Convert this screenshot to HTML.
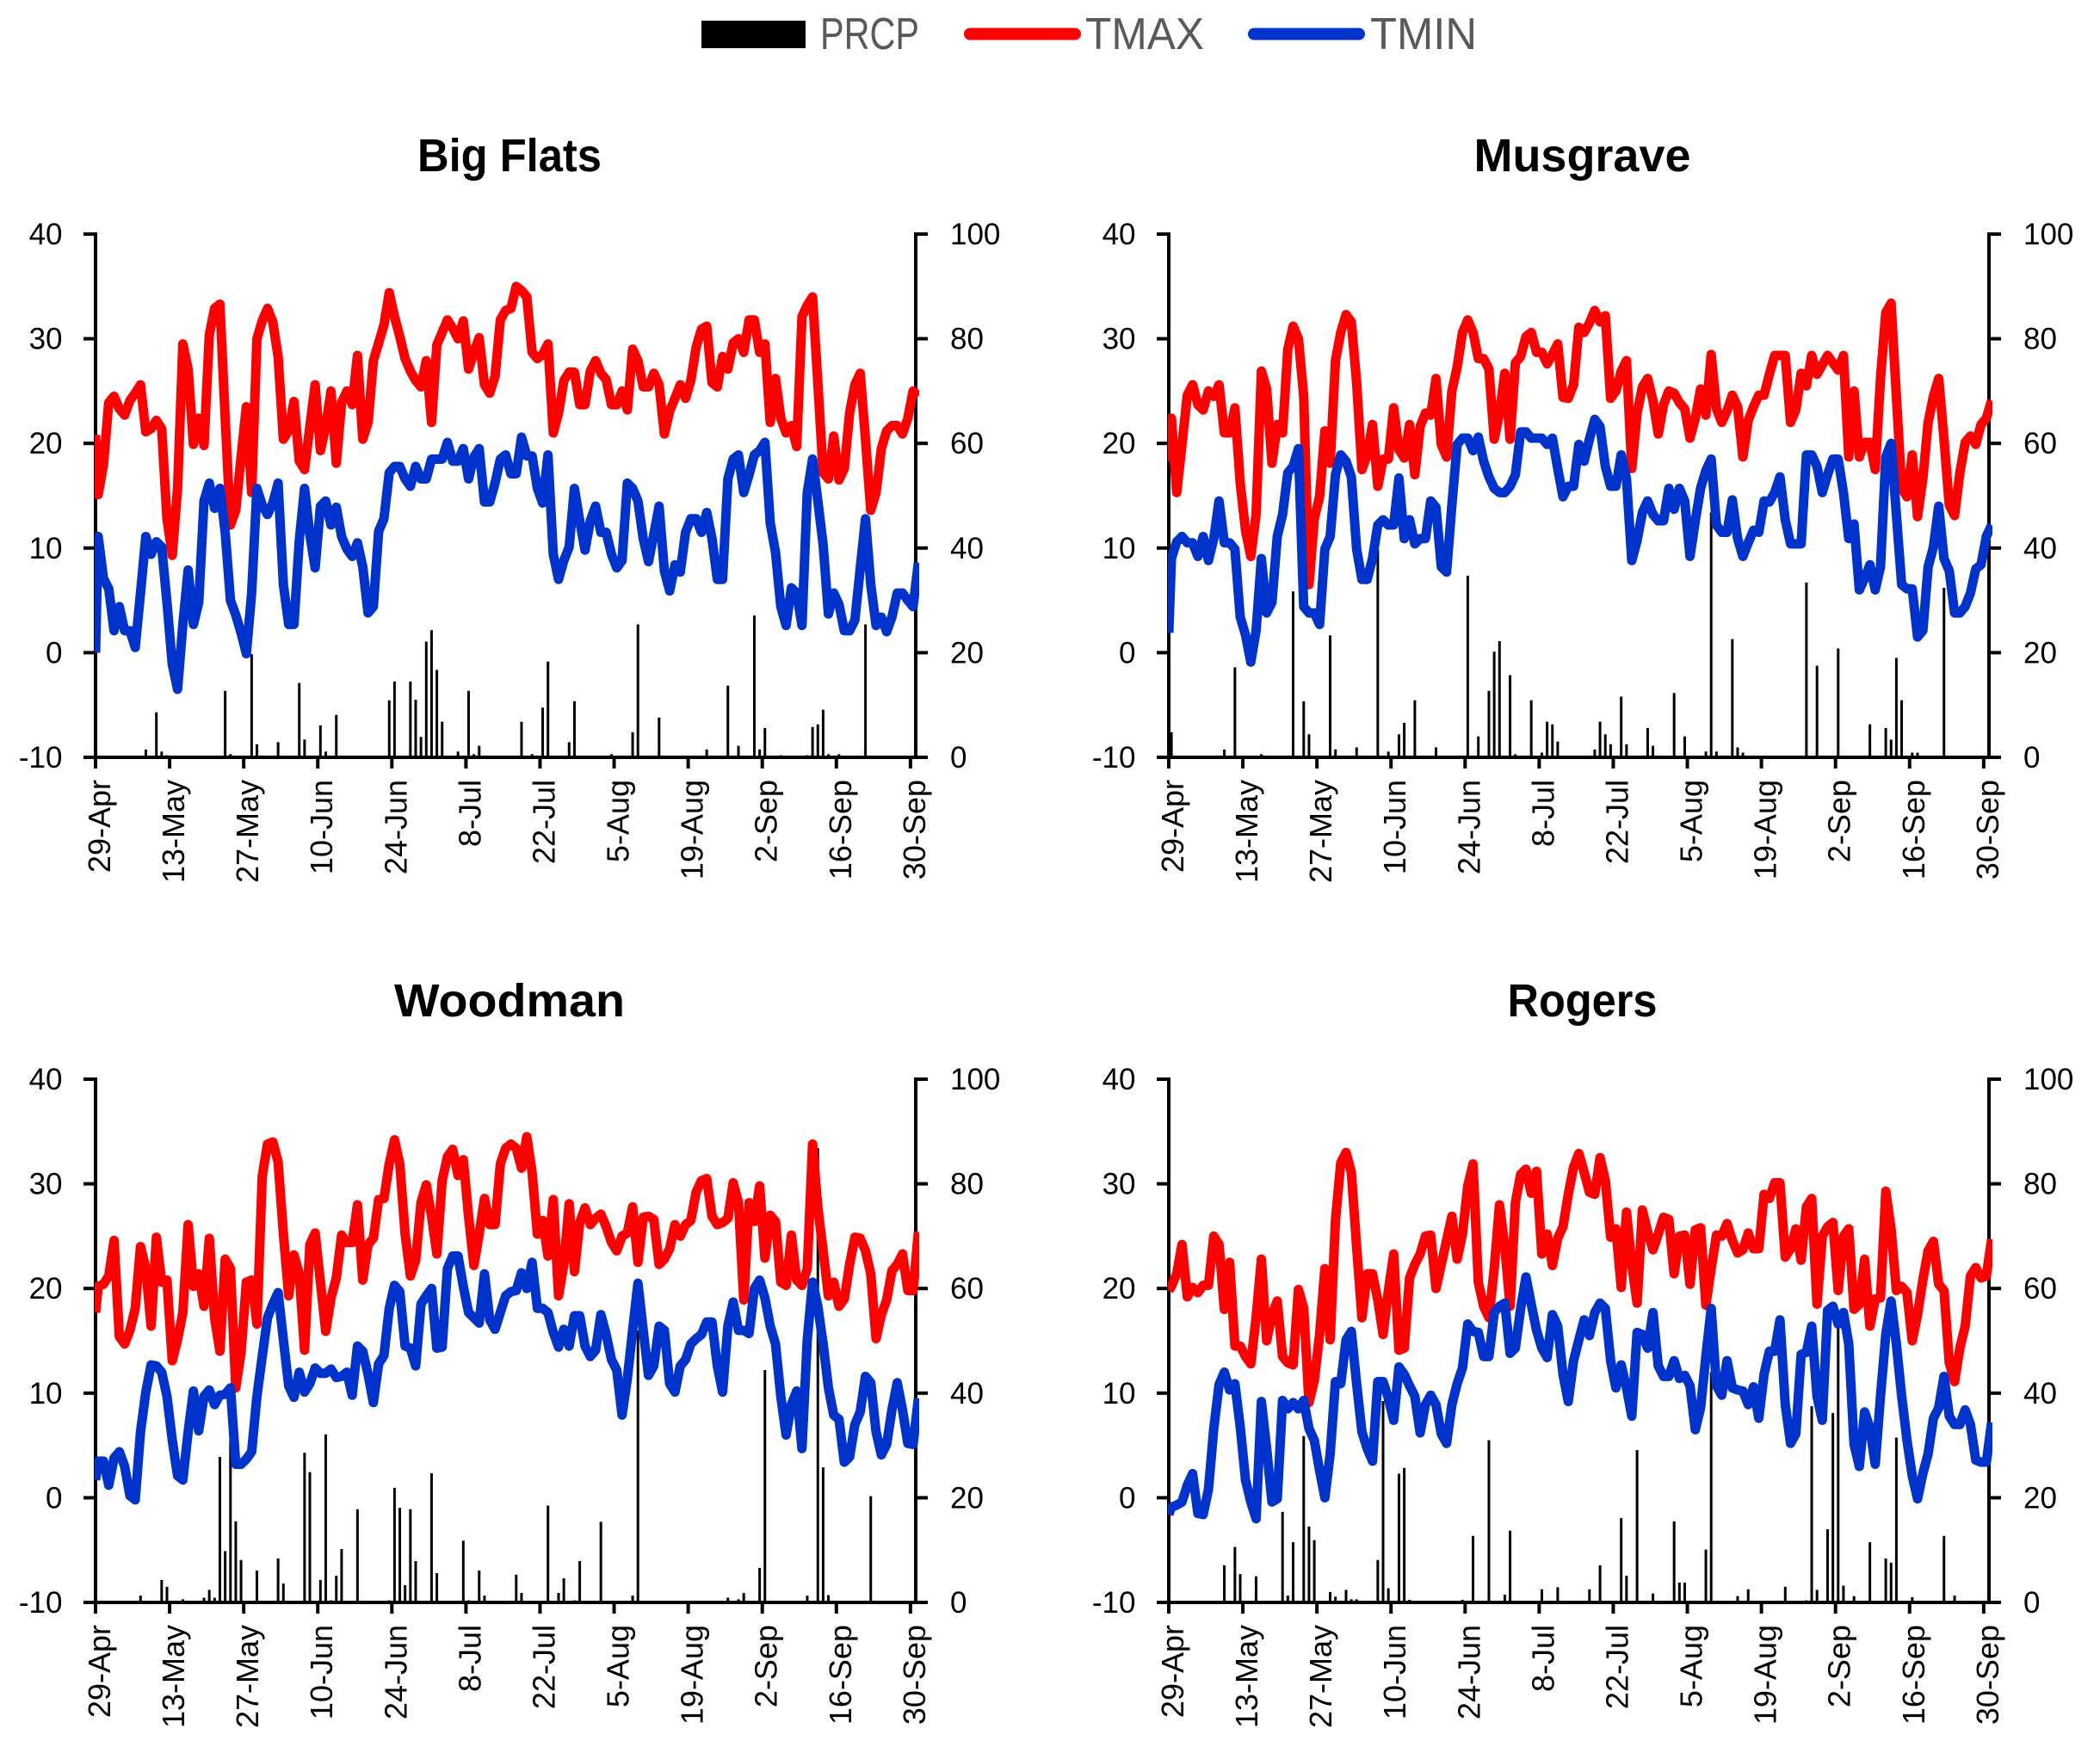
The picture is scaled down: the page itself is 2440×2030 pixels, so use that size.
<!DOCTYPE html>
<html lang="en">
<head>
<meta charset="utf-8">
<title>PRCP, TMAX and TMIN at four sites</title>
<style>
html,body{margin:0;padding:0;background:#fff;}
svg{display:block;font-family:"Liberation Sans",sans-serif;}
</style>
</head>
<body>
<svg id="chart" xmlns="http://www.w3.org/2000/svg" width="2440" height="2030" viewBox="0 0 2440 2030">
  <rect x="0" y="0" width="2440" height="2030" fill="#ffffff"/>
  <g>
    <rect x="815" y="24" width="121" height="32" fill="#000000"/>
    <text x="953" y="57" font-size="52" fill="#595959" textLength="115" lengthAdjust="spacingAndGlyphs">PRCP</text>
    <line x1="1127" y1="39.5" x2="1249" y2="39.5" stroke="#ff0000" stroke-width="14" stroke-linecap="round"/>
    <text x="1261" y="57" font-size="52" fill="#595959" textLength="138" lengthAdjust="spacingAndGlyphs">TMAX</text>
    <line x1="1457" y1="39.5" x2="1579" y2="39.5" stroke="#0033cc" stroke-width="14" stroke-linecap="round"/>
    <text x="1592" y="57" font-size="52" fill="#595959" textLength="124" lengthAdjust="spacingAndGlyphs">TMIN</text>
  </g>
</svg>
<script>
const xTickLabels = ['29-Apr','13-May','27-May','10-Jun','24-Jun','8-Jul','22-Jul','5-Aug','19-Aug','2-Sep','16-Sep','30-Sep'];
const tempTicks = [40,30,20,10,0,-10];
const prcpTicks = [100,80,60,40,20,0];

const bigFlatsTmax = [20.8,
15.1,18,23.9,24.5,23.3,22.7,24.1,24.8,25.6,21.1,
21.4,22.2,21.4,12.8,9.3,15.7,29.5,27.1,19.9,22.4,
19.8,30.4,32.9,33.3,22.4,12.2,13.6,18.7,23.5,15.3,
30,31.7,32.9,31.6,28.3,20.4,21.2,24,18.3,17.5,
21.6,25.6,19.3,21.6,25,18.1,23.9,25,23.7,28.4,
20.4,22,27.9,29.6,31.3,34.4,32.1,30.2,28.1,26.9,
26,25.4,27.9,22,29.4,30.6,31.8,31,30,31.7,
27.1,28.7,30.1,25.6,24.8,26.4,31.8,32.7,32.9,35,
34.6,34,28.7,28.1,28.5,29.5,21,22.9,26,26.8,
26.8,23.7,23.7,26.9,27.9,26.7,26.1,23.7,23.7,25,
23.2,29,27.9,25.4,25.4,26.7,25.6,20.9,23.1,24.3,
25.6,24.3,26,29.2,30.9,31.2,25.8,25.4,28.3,27.1,
29.6,30,28.7,31.8,31.8,28.7,29.5,22,26.2,22.4,
21,21.7,19.7,32.1,33.2,34,25.8,17.2,16.6,20.7,
16.5,17.6,22.9,25.6,26.7,20.4,13.6,15.3,19.5,21.2,
21.7,21.7,20.9,22.4,25,24.5];
const bigFlatsTmin = [0,
11.1,7.1,6.1,2.1,4.4,2.1,2.1,.5,5.7,11.1,
9.4,10.6,10.1,4.8,-1.1,-3.5,2.7,7.9,2.7,4.8,
14.5,16.2,13.8,15.7,11.5,5,3.6,1.9,-.1,5.7,
15.7,14.1,13.2,14.3,16.2,6.5,2.7,2.7,10.7,15.7,
11.3,8.1,14,14.5,12.2,13.9,11.1,9.9,9.2,10.5,
8.2,3.8,4.4,11.6,12.8,17.2,17.8,17.8,16.6,15.9,
17.8,16.6,16.6,18.5,18.5,18.5,20.1,18.3,18.3,19.5,
16.6,18.7,19.5,14.4,14.4,16.2,18.5,18.9,17.1,17.1,
20.6,18.8,18.8,15.7,14.3,18.9,9.4,7,8.8,10.1,
15.7,12.6,9.8,12.6,14,11.5,11.5,9.4,8.1,8.8,
16.2,15.7,14.5,10.9,8.7,11.3,14,7.8,5.9,8.4,
7.7,11.5,12.8,12.8,11.5,13.4,10.9,7,7,16.6,
18.5,18.9,15.3,17,18.9,19.3,20.1,12.4,9.6,4.4,
2.6,6.2,5.7,2.6,15.3,18.5,14.5,10.3,3.7,5.7,
4.6,2.1,2.1,3.1,8,12.8,6.5,2.6,3.4,2,
3.4,5.7,5.7,5,4.4,8.6];
const bigFlatsPrcpDays = [9,11,12,13,24,25,29,30,34,38,39,42,43,45,55,56,59,60,61,62,63,64,65,68,70,71,72,80,82,84,85,89,90,97,101,102,106,115,119,121,124,125,126,129,134,135,136,137,138,140,145];
const bigFlatsPrcpValues = [1.5,8.6,1.1,.4,12.7,.6,19.7,2.5,2.9,14.2,3.4,6.1,1.1,8.1,10.9,14.5,14.5,11,3.9,22.1,24.3,16.7,6.8,1.1,12.7,.6,2.2,6.8,.6,9.5,18.3,2.9,10.7,.6,4.8,25.4,7.6,1.5,13.7,2.2,27.1,1.5,5.6,.4,.4,5.8,6.3,9.1,.6,.6,25.4];

const musgraveTmax = [18.3,
22.4,15.3,19.9,24.6,25.6,23.7,23.2,25,24.5,25.6,
21,21,23.4,16.2,11.7,9.2,13.2,26.9,25.2,18.1,
21.8,21,29,31.2,30,24.5,6.5,12.8,14.9,21.2,
18.1,27.9,30.6,32.3,31.6,25.8,17.5,18.9,21.8,15.9,
18.5,18.5,23.4,19.4,18.6,21.8,17,21.6,22.9,22.7,
26.2,19.9,18.7,25,27.3,30.6,31.8,30.6,28.1,28.1,
27.1,20.4,22.9,26.7,20.4,27.7,28.3,30.2,30.6,28.7,
28.7,27.6,28.5,29.5,24.4,24.3,25.6,31.1,30.6,31.5,
32.7,31.6,32.2,24.3,25,26.9,27.9,17.6,22.9,25.4,
26.2,24.1,20.9,23.7,25,24.8,23.9,23.3,20.5,22.4,
25.2,22.7,28.5,23.3,22,23.1,24.6,23.5,18.7,22.2,
23.5,24.6,24.6,26.6,28.4,28.4,28.4,22,23.2,26.7,
25.5,28.4,26.6,27.5,28.4,27.7,27,28.4,18.7,25,
18.7,20.1,20.1,17.5,26.2,32.5,33.4,24.5,15.7,14.9,
18.9,13,16.6,22,24.5,26.2,20.4,14.1,13.1,17.2,
20.1,20.7,19.9,21.8,22.4,24.1];
const musgraveTmin = [1.9,
9,10.6,11.1,10.5,10.5,9.2,11.1,8.8,10.9,14.5,
10.5,10.5,9.9,3.4,1.7,-.9,2.1,9,3.8,4.8,
11.1,13.2,17.2,17.8,19.5,4.4,3.8,3.8,2.7,9.9,
11.1,17,18.9,18.3,16.8,9.9,7,7,9,12.2,
12.7,12.2,12.2,16.7,10.9,12.7,10.4,10.9,10.9,14.5,
13.9,8.2,7.7,14.1,19.9,20.5,20.5,19.3,20.6,18.3,
16.8,15.7,15.3,15.3,15.9,17,21.1,21.1,20.5,20.5,
20.5,19.9,20.5,17.6,14.9,15.9,15.9,19.9,18.3,20.4,
22.3,21.6,17.8,15.9,15.9,18.9,16.6,8.8,10.7,13.4,
14.5,13.2,12.6,12.6,15.7,13.7,15.7,14.5,9.2,12.6,
15.7,17.4,18.5,12.2,11.5,11.5,14.6,10.9,9.2,10.5,
11.7,11.5,14.5,14.4,15.3,16.8,12.7,10.4,10.4,10.4,
18.9,18.9,17.8,15.3,17,18.5,18.5,15.3,10.9,12.3,
6,7.1,8.4,6,8.2,18.7,20,13.2,6.5,6.1,
6.1,1.5,2.1,8.2,10.1,14,9,7.8,3.8,3.8,
4.4,5.7,8,8.4,11.1,12.2];
const musgravePrcpDays = [0,10,12,17,23,25,26,30,31,35,39,41,43,44,46,50,56,58,60,61,62,64,65,68,70,71,72,73,80,81,82,83,85,86,90,91,95,97,101,102,103,106,107,108,120,122,126,132,135,136,137,138,140,141,146];
const musgravePrcpValues = [4.8,1.5,17.2,.6,31.7,10.7,4.4,23.3,1.5,1.9,39.7,1.1,4.4,6.6,10.9,1.9,34.7,4,12.7,20.2,22.2,15.7,.6,10.9,.9,6.8,6.3,3,1.5,6.8,4.4,2.5,11.6,2.5,5.6,2.2,12.3,4,1.1,46.8,1.1,22.6,1.9,.9,33.4,17.5,20.8,6.3,5.6,3.4,19,10.9,.9,.9,32.4];

const woodmanTmax = [17.7,
20.2,20.4,21.2,24.6,15.4,14.7,16,18.1,24,21.9,
16.4,24.9,20.6,20.8,13.1,15.1,17.7,26.1,20.2,21.4,
18.3,24.8,17.2,14,22.8,21.9,10.5,13.9,20.6,20.8,
16.6,30.7,33.8,34,32.1,25.2,19.3,23.2,21.4,14.1,
24.2,25.3,20.6,15.9,19.1,21,25.1,24.4,24.4,28,
20.8,24.2,24.8,28.5,28.6,31.9,34.2,31.9,25.2,21.2,
22.7,28.2,29.9,26.9,23.3,30.3,32.6,33.3,30.8,32.3,
26.9,22.2,25.2,28.6,26.1,26.1,31.9,33.4,33.8,33.4,
31.5,34.5,31.1,25.2,26.5,23.1,28.5,19.3,22.3,28.1,
21.6,26.3,27.7,26.1,26.7,27.1,25.9,24.4,23.6,25,
25.3,27.8,22.5,26.8,26.9,26.6,22.3,22.8,23.8,26.1,
25,26.1,26.5,29.2,30.3,30.5,26.9,26.1,26.3,26.7,
30.1,28.2,18.9,28.2,26.4,29.8,22.9,27,26.4,20.6,
20.3,25.1,20.8,20.3,21.9,33.8,27.7,23.6,19.3,20.6,
18.3,19,22.3,24.9,24.8,23.6,21.4,15.2,17.5,18.9,
21.7,22.3,23.3,19.8,19.8,25.4];
const woodmanTmin = [1.7,
3.5,3.5,1.2,3.8,4.4,3,.2,-.2,6.3,10.1,
12.7,12.6,12,9.7,5.5,2.1,1.7,6.3,10.2,6.4,
9.7,10.3,8.9,9.8,9.9,10.5,3.2,3.2,3.7,4.4,
9.7,13.5,17.2,18.5,19.6,15.1,10.7,9.6,12,10.1,
10.9,12.4,11.9,11.9,12.3,11.5,11.6,12,9.8,14.5,
14,11.8,9.1,12.8,13.6,18.1,20.3,19.7,14.5,14.3,
12.6,18.5,19.3,20,14.3,14.4,21.9,23.1,23.1,20.2,
17.7,17.2,16.7,21.4,17,16.1,17.7,19.3,19.7,19.8,
21.5,20,22.5,18.1,18.1,17.7,15.8,14.4,16.1,14.5,
17.4,17.4,14.5,13.5,14.1,17.5,15.6,13.2,12.2,7.9,
11.4,16,20.5,16,11.7,12.6,16.4,16,10.9,10.1,
12.6,13.2,14.7,15.2,15.6,16.8,16.8,12.6,10.1,16.4,
18.7,16,16,15.7,20,20.8,19.1,16.4,14.7,9.7,
6,8.9,10.2,4.7,15.1,20.6,18.3,14.7,10.5,7.9,
7.5,3.4,3.9,7,8.2,11.6,11,6.3,4.1,5.1,
8.4,11,8.4,5.2,5.1,9.5];
const woodmanPrcpDays = [8,12,13,16,20,21,22,23,24,25,26,27,30,34,35,39,40,42,43,44,45,46,49,55,56,57,58,59,60,63,64,69,70,72,73,79,80,85,87,88,90,91,95,101,102,119,121,122,125,126,134,136,137,138,146];
const woodmanPrcpValues = [1.3,4.3,3,.6,.9,2.4,.9,27.8,9.8,31,15.5,8.1,6.1,8.4,3.6,28.6,24.9,4.3,32.1,.4,5.1,10.2,17.8,.4,21.9,18.1,3.3,17.8,7.9,24.7,5.6,11.8,.4,6.1,1.3,5.3,1.8,18.5,1.8,4.6,.4,7.9,15.4,1.3,52,.9,.6,1.8,6.6,44.4,1.3,86.8,25.8,1.4,20.3];

const rogersTmax = [19.8,
20.2,21.4,24.2,19.2,20.1,19.6,20.3,20.3,25,24.2,
18,22.5,14.5,14.5,13.5,12.8,17.2,22.8,15,17.5,
18.8,13.5,12.9,12.7,19.9,18.1,9.1,11.2,15.6,21.9,
15.1,26.5,32,33,31.1,24,17.2,21.4,21.4,18.9,
15.6,19.8,23.3,14.1,14.3,21,22.3,23.3,25,25.1,
20,22.3,24.6,26.9,22.8,25.2,29.8,31.9,20.6,18.3,
17.2,21.9,28,24,18.3,28.2,30.9,31.4,29.1,31.2,
23.3,25.2,22.2,24.8,25.9,29,31.6,32.9,31.1,29.2,
29,32.5,30.3,24.9,25.7,20.1,27.3,22.3,18.6,27.5,
25.4,23.7,25.2,26.8,26.6,21.4,25,25.1,20.4,25.6,
25.8,18.4,21.9,25.1,25,26.2,24.6,23.4,23.7,25.3,
23.8,23.8,29,28.6,30.1,30.1,23,23.8,25.7,22.7,
27.8,28.6,18.5,25,25.9,26.3,19.8,25,25.7,18,
18.5,22.8,16.4,19,19.1,29.3,25.7,19.8,20.2,19.6,
15,17.5,20.8,23.6,24.5,20.4,19.8,12.9,11.1,14.3,
16.4,21.2,22,21,21.2,24.7];
const rogersTmin = [-1.6,
-.9,-.7,-.4,1.2,2.3,-1.5,-1.6,.8,6.6,10.8,
12,10.3,10.9,6.8,1.7,-.4,-2,9.2,4.7,-.4,
-.1,9.3,8.5,9.1,8.5,9.3,6.6,5.5,2.6,0,
4.2,11.1,10.9,15.1,15.9,10.9,6.3,4.7,3.5,11.1,
11.1,9.5,7.4,12.5,11.8,10.7,9.7,6.2,8.9,9.8,
8.9,6.1,5.2,8.9,10.9,12.4,16.6,15.9,15.8,13.5,
13.5,17.7,18.3,18.6,13.8,14.3,18.1,21.1,18.5,16,
14.3,13.4,17.5,16.4,11.8,9.2,13.1,15.1,17,15.5,
17.7,18.6,18.1,13.1,10.5,12.7,10.5,7.8,15.8,15.6,
14.3,17.7,12.6,11.6,11.6,13.1,11.4,11.7,10.7,6.5,
8.6,13.5,18.1,10.7,9.8,13.1,10.5,10.3,10.2,8.9,
10.6,7.6,11.8,14,14,17,8.9,5.2,6.1,13.7,
13.9,16.4,9.7,7.4,17.9,18.3,16.6,17.7,14.7,5.1,
3,8.2,6.7,3.2,9.7,15.6,18.8,14.7,9.7,5.5,
2.1,-.1,2.3,4.2,7.6,8.6,11.6,7.8,7,7,
8.4,7,3.6,3.4,3.4,7.2];
const rogersPrcpDays = [10,12,13,16,21,22,23,25,26,27,30,31,33,34,35,39,40,41,43,44,45,46,55,57,60,63,64,70,73,79,81,85,86,88,91,95,96,97,101,102,107,109,116,119,120,121,122,124,125,126,127,129,132,135,136,137,140,146,148];
const rogersPrcpValues = [7.1,10.6,5.4,5,17.3,1.3,11.5,31.8,14.5,11.9,2,1.1,2.4,.6,.6,8.1,38.5,2.7,24.6,25.7,.5,.3,.5,12.7,31,1.5,13.7,2.5,2.9,2.5,7.1,16.1,5.1,29.1,1.7,15.5,3.8,3.8,10.1,44,1.2,2.5,3,.3,.4,37.5,2.4,14,36.2,52.8,3.2,1.2,11.5,8.4,7.6,31.5,1,12.7,1.3];

const CATEGORY_COUNT = 155;
const TICK_STEP = 14;
const svg = document.getElementById('chart');
const NS = 'http://www.w3.org/2000/svg';

function make(parent, tag, attrs, text) {
  const el = document.createElementNS(NS, tag);
  for (const k in attrs) el.setAttribute(k, attrs[k]);
  if (text !== undefined) el.textContent = text;
  parent.appendChild(el);
  return el;
}

function drawPanel(slug, title, titleX, titleBase, titleLen, left, right, top, bottom, tmax, tmin, prcpDays, prcpValues) {
  const w = (right - left) / CATEGORY_COUNT;
  const xCat = function (i) { return left + (i + 0.5) * w; };
  const xLine = function (j) { return j === 0 ? left : xCat(j - 1); };
  const yTemp = function (v) { return bottom - (v + 10) / 50 * (bottom - top); };
  const yPrcp = function (v) { return bottom - v / 100 * (bottom - top); };

  const g = make(svg, 'g', {});
  
  

  const t = make(g, 'text', {x: titleX, y: titleBase, 'text-anchor': 'middle', 'font-size': 54, 'font-weight': 'bold', fill: '#000', textLength: titleLen, lengthAdjust: 'spacingAndGlyphs'}, title);
  
  

  prcpDays.forEach(function (d, n) {
    const b = make(g, 'rect', {x: xCat(d) - 1.5, y: yPrcp(prcpValues[n]), width: 3, height: bottom - yPrcp(prcpValues[n]), fill: '#000'});
    
    
  });

  const axisStyle = {stroke: '#000', 'stroke-width': 4, fill: 'none'};
  const leftAxis = make(g, 'line', Object.assign({x1: left, y1: top - 2, x2: left, y2: bottom + 13}, axisStyle));
  
  
  const rightAxis = make(g, 'line', Object.assign({x1: right, y1: top - 2, x2: right, y2: bottom + 2}, axisStyle));
  
  
  const bottomAxis = make(g, 'line', Object.assign({x1: left - 14, y1: bottom, x2: right + 14, y2: bottom}, axisStyle));
  
  

  tempTicks.forEach(function (v) {
    const tk = make(g, 'line', Object.assign({x1: left - 14, y1: yTemp(v), x2: left, y2: yTemp(v)}, axisStyle));
    
    
    const lb = make(g, 'text', {x: left - 38.5, y: yTemp(v) + 12, 'text-anchor': 'end', 'font-size': 35, fill: '#000'}, String(v));
    
    
  });

  prcpTicks.forEach(function (v) {
    const tk = make(g, 'line', Object.assign({x1: right, y1: yPrcp(v), x2: right + 14, y2: yPrcp(v)}, axisStyle));
    
    
    const lb = make(g, 'text', {x: right + 40, y: yPrcp(v) + 12, 'font-size': 35, fill: '#000'}, String(v));
    
    
  });

  xTickLabels.forEach(function (label, n) {
    const x = left + n * TICK_STEP * w;
    const tk = make(g, 'line', Object.assign({x1: x, y1: bottom, x2: x, y2: bottom + 13}, axisStyle));
    
    
    const lb = make(g, 'text', {transform: 'translate(' + (x + 17) + ',' + (bottom + 26) + ') rotate(-90)', 'text-anchor': 'end', 'font-size': 36, fill: '#000'}, label);
    
    
  });

  const clip = make(g, 'clipPath', {id: slug + '-clip'});
  make(clip, 'rect', {x: left - 1, y: top - 20, width: right - left + 5, height: bottom - top + 40});

  const toPath = function (arr) {
    return arr.map(function (v, j) { return (j ? 'L' : 'M') + xLine(j).toFixed(2) + ' ' + yTemp(v).toFixed(2); }).join('');
  };
  const lineStyle = {fill: 'none', 'stroke-width': 11, 'stroke-linejoin': 'round', 'stroke-linecap': 'butt', 'clip-path': 'url(#' + slug + '-clip)'};
  const redLine = make(g, 'path', Object.assign({d: toPath(tmax), stroke: '#ff0000'}, lineStyle));
  
  
  const blueLine = make(g, 'path', Object.assign({d: toPath(tmin), stroke: '#0033cc'}, lineStyle));
  
  
}

drawPanel('big-flats', 'Big Flats', 592, 199, 214, 111, 1064, 272, 880, bigFlatsTmax, bigFlatsTmin, bigFlatsPrcpDays, bigFlatsPrcpValues);
drawPanel('musgrave', 'Musgrave', 1838.5, 199, 252, 1358, 2311, 272, 880, musgraveTmax, musgraveTmin, musgravePrcpDays, musgravePrcpValues);
drawPanel('woodman', 'Woodman', 592, 1181, 268, 111, 1064, 1254, 1862, woodmanTmax, woodmanTmin, woodmanPrcpDays, woodmanPrcpValues);
drawPanel('rogers', 'Rogers', 1838.5, 1181, 174, 1358, 2311, 1254, 1862, rogersTmax, rogersTmin, rogersPrcpDays, rogersPrcpValues);
</script>
</body>
</html>
